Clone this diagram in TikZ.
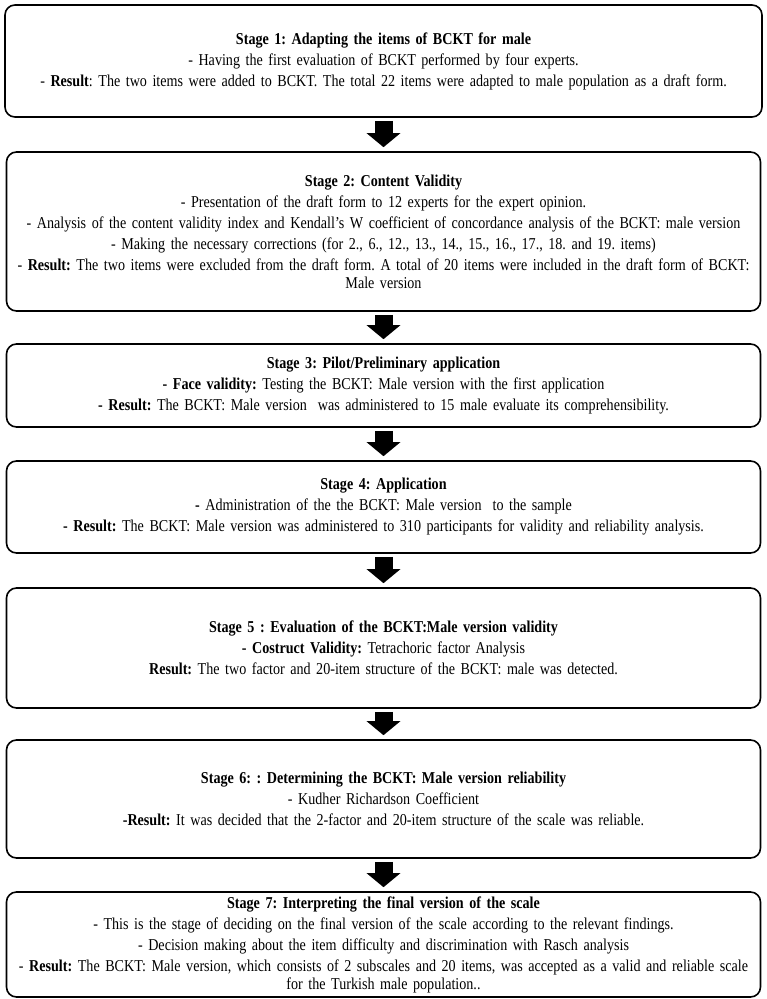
\documentclass[tikz,border=0pt]{standalone}
\usepackage{fontspec}
\setmainfont{Liberation Serif}[FakeStretch=0.85]
\usepackage{tikz}
\usetikzlibrary{arrows.meta}
\frenchspacing

\begin{document}
\begin{tikzpicture}[x=1pt, y=-1pt,
  stagebox/.style={draw, line width=1.6pt, rounded corners=10pt,
              minimum width=754pt, text width=748pt, inner xsep=2pt,
              font=\fontsize{16.6}{18}\selectfont, align=center},
  flowarrow/.style={line width=18pt,
              -{Triangle[width=33pt,length=14pt]},
              shorten <=3pt, shorten >=4pt}]
\useasboundingbox (0,0) rectangle (767,999);
\node[stagebox, minimum width=757pt, minimum height=112pt] (S1) at (383.5,61)
  {\textbf{Stage 1: Adapting the items of BCKT for male}\\[3pt]
   - Having the first evaluation of BCKT performed by four experts.\\[3pt]
   - \textbf{Result}: The two items were added to BCKT. The total 22 items were adapted to male population as a draft form.};
\node[stagebox, minimum height=159pt] (S2) at (383.5,231.5)
  {\textbf{Stage 2: Content Validity}\\[3pt]
   - Presentation of the draft form to 12 experts for the expert opinion.\\[3pt]
   - Analysis of the content validity index and Kendall's W coefficient of concordance analysis of the BCKT: male version\\[3pt]
   - Making the necessary corrections (for 2., 6., 12., 13., 14., 15., 16., 17., 18. and 19. items)\\[3pt]
   - \textbf{Result:} The two items were excluded from the draft form. A total of 20 items were included in the draft form of BCKT:\\
   Male version};
\node[stagebox, minimum height=83pt] (S3) at (383.5,385.5)
  {\textbf{Stage 3: Pilot/Preliminary application}\\[3pt]
   \textbf{- Face validity:} Testing the BCKT: Male version with the first application\\[3pt]
   \textbf{- Result:} The BCKT: Male version~ was administered to 15 male evaluate its comprehensibility.};
\node[stagebox, minimum height=92pt] (S4) at (383.5,507)
  {\textbf{Stage 4: Application}\\[3pt]
   \textbf{-} Administration of the the BCKT: Male version~ to the sample\\[3pt]
   \textbf{- Result:} The BCKT: Male version was administered to 310 participants for validity and reliability analysis.};
\node[stagebox, minimum height=120pt] (S5) at (383.5,648)
  {\textbf{Stage 5 : Evaluation of the BCKT:Male version validity}\\[3pt]
   \textbf{- Costruct Validity:} Tetrachoric factor Analysis\\[3pt]
   \textbf{Result:} The two factor and 20-item structure of the BCKT: male was detected.};
\node[stagebox, minimum height=118pt] (S6) at (383.5,799)
  {\textbf{Stage 6: : Determining the BCKT: Male version reliability}\\[3pt]
   - Kudher Richardson Coefficient\\[3pt]
   \textbf{-Result:} It was decided that the 2-factor and 20-item structure of the scale was reliable.};
\node[stagebox, minimum height=105pt] (S7) at (383.5,944.5)
  {\textbf{Stage 7: Interpreting the final version of the scale}\\[3pt]
   - This is the stage of deciding on the final version of the scale according to the relevant findings.\\[3pt]
   - Decision making about the item difficulty and discrimination with Rasch analysis\\[3pt]
   - \textbf{Result:} The BCKT: Male version, which consists of 2 subscales and 20 items, was accepted as a valid and reliable scale\\
   for the Turkish male population..};
\draw[flowarrow] (S1) -- (S2);
\draw[flowarrow] (S2) -- (S3);
\draw[flowarrow] (S3) -- (S4);
\draw[flowarrow] (S4) -- (S5);
\draw[flowarrow] (S5) -- (S6);
\draw[flowarrow] (S6) -- (S7);
\end{tikzpicture}
\end{document}
